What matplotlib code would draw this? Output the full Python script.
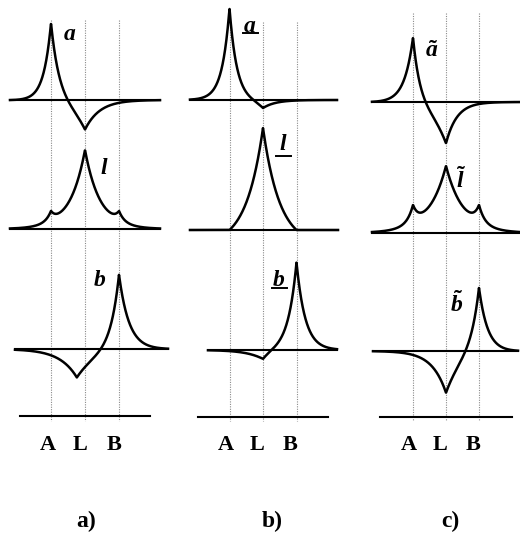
import numpy as np
import matplotlib.pyplot as plt
from matplotlib.lines import Line2D

plt.rcParams['mathtext.fontset'] = 'custom'
plt.rcParams['mathtext.it'] = 'Liberation Serif:italic:bold'
plt.rcParams['mathtext.rm'] = 'Liberation Serif:bold'

W, H = 520, 541

# --- sites (A, L, B) in site units ---
site_names = ["A", "L", "B"]
site_x = [-1, 0, 1]

# --- curves: cusp positions (site units), heights, left / right widths ---
# panel a)
a_a = dict(pos=[-1, 0], amp=[81, -31], wl=[0.22, 0.5], wr=[0.25, 0.42])
a_l = dict(pos=[-1, 0, 1], amp=[10, 79, 10], wl=[0.15, 0.44, 0.15], wr=[0.15, 0.44, 0.15])
a_b = dict(pos=[-0.24, 1], amp=[-29, 78], wl=[0.5, 0.25], wr=[0.6, 0.3])
# panel b)
b_a = dict(pos=[-1, 0], amp=[92, -9], wl=[0.22, 0.3], wr=[0.22, 0.35])
b_l = dict(pos=[0], amp=[118], wl=[0.5], wr=[0.5], floor=16)
b_b = dict(pos=[0, 1], amp=[-10.5, 88], wl=[0.45, 0.25], wr=[0.3, 0.26])
# panel c)
c_a = dict(pos=[-1, 0], amp=[70, -42], wl=[0.27, 0.5], wr=[0.22, 0.33])
c_l = dict(pos=[-1, 0, 1], amp=[18, 67, 18], wl=[0.17, 0.53, 0.17], wr=[0.17, 0.53, 0.17])
c_b = dict(pos=[0, 1], amp=[-43, 69], wl=[0.42, 0.25], wr=[0.5, 0.27])

panel_curves = [[a_a, a_l, a_b], [b_a, b_l, b_b], [c_a, c_l, c_b]]
panel_tags = ["a)", "b)", "c)"]
curve_labels = [
    [r"$a$", r"$l$", r"$b$"],
    [r"$a$", r"$l$", r"$b$"],
    [r"$\tilde{a}$", r"$\tilde{l}$", r"$\tilde{b}$"],
]
underlined = [False, True, False]

# --- layout (pixels) ---
L_px = [85, 263, 446]
spacing = [34, 33.5, 33]
row_base = [[100, 229, 349], [100, 230, 350], [102, 233, 351]]
row_span = [[(10, 160), (10, 160), (15, 168)],
            [(190, 337), (190, 338), (208, 337)],
            [(372, 520), (372, 520), (373, 518)]]
bottom_line = [(416, 20, 150), (417, 198, 328), (417, 380, 512)]
vline_top = [20, 22, 13]
label_pos = [[(70, 33), (104, 167), (100, 279)],
             [(250, 25), (283, 143), (279, 279)],
             [(432, 50), (461, 180), (457, 304)]]
underline_drop = [8, 13, 9]
site_label_x = [[48, 80, 114], [226, 257, 290], [409, 440, 473]]
tag_x = [86, 272, 450]


def cusp_curve(x, pos, amp, wl, wr, floor=0):
    y = np.zeros_like(x)
    for p, c, l, r in zip(pos, amp, wl, wr):
        d = x - p
        w = np.where(d < 0, l, r)
        y += c * np.exp(-np.abs(d) / w)
    if floor:
        y = np.clip(y - floor, 0, None)
    return y


fig = plt.figure(figsize=(W / 100, H / 100), dpi=100)

for k in range(3):
    ax = fig.add_axes([0, 0, 1, 1], facecolor="none")
    ax.set_xlim((0 - L_px[k]) / spacing[k], (W - L_px[k]) / spacing[k])
    ax.set_ylim(H, 0)
    ax.axis("off")

    ax.vlines(site_x, vline_top[k], 421, colors="#8a8a8a", lw=0.8,
              linestyles=(0, (1, 1.2)))

    for r, curve in enumerate(panel_curves[k]):
        x0, x1 = [(p - L_px[k]) / spacing[k] for p in row_span[k][r]]
        x = np.linspace(x0, x1, 800)
        y = cusp_curve(x, **curve)
        ax.plot([x0, x1], [row_base[k][r]] * 2, color="black", lw=1.5)
        ax.plot(x, row_base[k][r] - y, color="black", lw=1.8)

    yb, xb0, xb1 = bottom_line[k]
    ax.plot([(xb0 - L_px[k]) / spacing[k], (xb1 - L_px[k]) / spacing[k]],
            [yb, yb], color="black", lw=1.5)

    for r, (lx, ly) in enumerate(label_pos[k]):
        fig.text(lx / W, 1 - ly / H, curve_labels[k][r], fontsize=17,
                 ha="center", va="center")
        if underlined[k]:
            uy = ly + underline_drop[r]
            fig.add_artist(Line2D([(lx - 7) / W, (lx + 8) / W],
                                  [1 - uy / H] * 2, color="black", lw=1.4))

    for name, sx in zip(site_names, site_label_x[k]):
        fig.text(sx / W, 1 - 445 / H, name, fontsize=16, fontweight="bold",
                 family="Liberation Serif", ha="center", va="center")

    fig.text(tag_x[k] / W, 1 - 521 / H, panel_tags[k], fontsize=17,
             fontweight="bold", family="Liberation Serif", ha="center", va="center")

fig.savefig("out.png", dpi=100, facecolor="white")
